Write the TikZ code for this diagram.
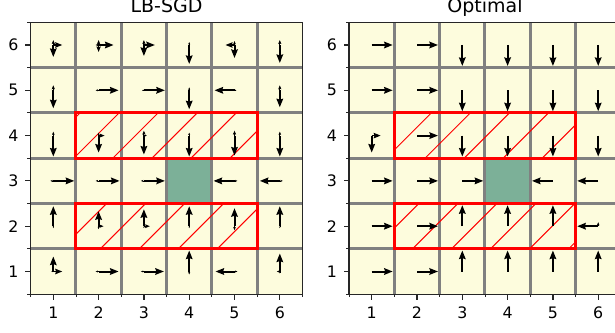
\documentclass[tikz,border=0pt]{standalone}
\usepackage{fontspec}
\setmainfont{DejaVu Sans}
\usetikzlibrary{arrows.meta}
\definecolor{cellbg}{RGB}{253,252,221}
\definecolor{goalc}{RGB}{124,176,152}
\definecolor{gridc}{RGB}{128,128,128}
\definecolor{spinec}{RGB}{38,38,38}
\tikzset{
  gridline/.style={draw=gridc, line width=3pt},
  redbox/.style={draw=red, line width=3pt},
  hatchline/.style={draw=red, line width=1pt},
  spine/.style={draw=spinec, line width=1.3pt},
  majtick/.style={draw=spinec, line width=1.2pt},
  mintick/.style={draw=spinec, line width=0.9pt},
  ticklabel/.style={font=\fontsize{15.8}{18}\selectfont, inner sep=0pt},
  titlelabel/.style={font=\fontsize{19}{22}\selectfont, inner sep=0pt},
}
% quiver-like arrow: col, row, angle, length (px)
\newcommand\qv[4]{%
  \pgfmathsetmacro\qvs{min(1,#4/11)}%
  \pgfmathsetmacro\qvw{2.0*\qvs}%
  \pgfmathsetmacro\qvhl{8.5*\qvs}%
  \pgfmathsetmacro\qvhw{6.5*\qvs}%
  \pgfmathsetmacro\qvin{0.9*\qvs}%
  \draw[line width=\qvw pt, -{Stealth[length=\qvhl pt, width=\qvhw pt, inset=\qvin pt]}] (#1,#2) -- ++(#3:#4pt);%
}
\newcommand\panelbase[2]{%
  \fill[cellbg] (0.5,0.5) rectangle (6.5,6.5);
  \fill[goalc] (3.5,2.5) rectangle (4.5,3.5);
  \foreach \g in {1.5,2.5,3.5,4.5,5.5} {
    \draw[gridline] (\g,0.5) -- (\g,6.5);
    \draw[gridline] (0.5,\g) -- (6.5,\g);
  }
  \begin{scope}
    \clip (1.5,1.5) rectangle (5.5,2.5) (1.5,3.5) rectangle (5.5,4.5);
    \foreach \k in {-6,...,6} {
      \draw[hatchline] ({#2pt+\k*39.03pt},0pt) -- ++(320pt,320pt);
    }
  \end{scope}
  \draw[redbox] (1.5,3.5) rectangle (5.5,4.5);
  \draw[redbox] (1.5,1.5) rectangle (5.5,2.5);
  \draw[spine] (0.5,0.5) rectangle (6.5,6.5);
  \foreach \c in {1,...,6} {
    \draw[majtick] (\c,0.5) -- ++(0,-5.5pt);
    \draw[majtick] (0.5,\c) -- ++(-5.5pt,0);
    \node[ticklabel, anchor=center, yshift=-18.5pt] at (\c,0.5) {\c};
    \node[ticklabel, anchor=east, xshift=-12pt] at (0.5,\c) {\c};
  }
  \foreach \m in {0.5,1.5,...,6.5} {
    \draw[mintick] (\m,0.5) -- ++(0,-3.2pt);
    \draw[mintick] (0.5,\m) -- ++(-3.2pt,0);
  }
  \node[titlelabel, anchor=base, yshift=10pt] at (3.5,6.5) {#1};
}
\begin{document}
\begin{tikzpicture}
\useasboundingbox (0pt,0pt) rectangle (615pt,332pt);
\clip (0pt,0pt) rectangle (615pt,332pt);
\fill[white] (0pt,0pt) rectangle (615pt,332pt);
% LB-SGD panel
\begin{scope}[shift={(8pt,15.2pt)}, x=45.3pt, y=45.3pt]
  \panelbase{LB-SGD}{24.29}
  \foreach \c/\r/\a/\l in {
    1/6/0/9, 1/6/270/12, 1/6/90/5,
    2/6/0/15, 2/6/180/3, 2/6/90/5, 2/6/270/7,
    3/6/0/11, 3/6/270/11, 3/6/90/5,
    4/6/270/19, 4/6/90/3,
    5/6/180/9, 5/6/270/13, 5/6/90/4,
    6/6/270/18, 6/6/90/5,
    1/5/270/18, 1/5/90/5,
    2/5/0/20, 2/5/180/3,
    3/5/0/21, 3/5/180/2,
    4/5/270/19, 4/5/90/3,
    5/5/180/20, 5/5/0/2,
    6/5/270/17, 6/5/90/5,
    1/4/270/21, 1/4/90/4,
    2/4/270/17, 2/4/0/6, 2/4/90/3,
    3/4/270/19, 3/4/90/5, 3/4/0/3,
    4/4/270/21, 4/4/90/3,
    5/4/270/20, 5/4/90/5,
    6/4/270/21, 6/4/90/4,
    1/3/0/21, 1/3/180/3,
    2/3/0/21, 2/3/180/3,
    3/3/0/21, 3/3/180/3,
    5/3/180/21, 5/3/0/3,
    6/3/180/20, 6/3/0/3,
    1/2/90/20, 1/2/270/2,
    2/2/90/15, 2/2/270/3, 2/2/0/5,
    3/2/90/17, 3/2/0/6, 3/2/270/2,
    4/2/90/20, 4/2/270/2,
    5/2/90/18, 5/2/270/4,
    6/2/90/20, 6/2/270/2,
    1/1/90/15, 1/1/0/9, 1/1/180/2,
    2/1/0/20, 2/1/180/3,
    3/1/0/20, 3/1/180/3,
    4/1/90/21, 4/1/270/3,
    5/1/180/19, 5/1/0/3,
    6/1/90/18, 6/1/270/2, 6/1/180/3}
  {\qv{\c}{\r}{\a}{\l}}
\end{scope}
% Optimal panel
\begin{scope}[shift={(326.4pt,15.2pt)}, x=45.3pt, y=45.3pt]
  \panelbase{Optimal}{18.13}
  \foreach \c/\r/\a/\l in {
    1/6/0/21, 2/6/0/21, 3/6/270/21, 4/6/270/21, 5/6/270/21, 6/6/270/21,
    1/5/0/21, 2/5/0/21, 3/5/270/21, 4/5/270/21, 5/5/270/21, 6/5/270/21,
    1/4/270/17, 1/4/0/9, 2/4/0/21, 3/4/270/21, 4/4/270/21, 5/4/270/21, 6/4/270/21,
    1/3/0/21, 2/3/0/21, 3/3/0/21, 5/3/180/21, 6/3/180/21,
    1/2/0/21, 2/2/0/21, 3/2/90/21, 4/2/90/21, 5/2/90/21, 6/2/180/21, 6/2/90/4,
    1/1/0/21, 2/1/0/21, 3/1/90/21, 4/1/90/21, 5/1/90/21, 6/1/90/21}
  {\qv{\c}{\r}{\a}{\l}}
\end{scope}
\end{tikzpicture}
\end{document}
